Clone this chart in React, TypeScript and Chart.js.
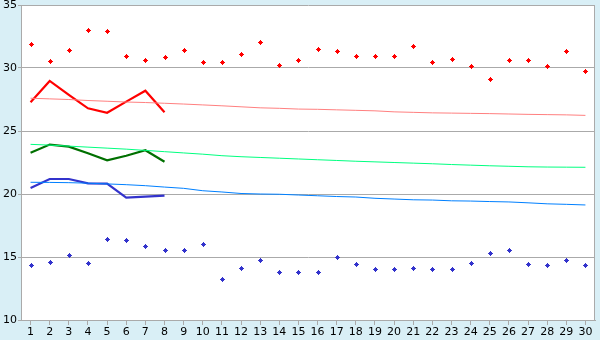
import React, { useEffect, useRef } from 'react';
import { Chart, registerables } from 'chart.js';
Chart.register(...registerables);

const days = ['1','2','3','4','5','6','7','8','9','10','11','12','13','14','15','16','17','18','19','20','21','22','23','24','25','26','27','28','29','30'];
const yTicks = [10, 15, 20, 25, 30, 35];

const redPoints = [31.9, 30.53, 31.4, 33.02, 32.9, 30.93, 30.6, 30.85, 31.4, 30.45, 30.45, 31.1, 32.04, 30.2, 30.6, 31.48, 31.32, 30.93, 30.93, 30.93, 31.72, 30.45, 30.69, 30.13, 29.1, 30.6, 30.6, 30.13, 31.32, 29.8];
const bluePoints = [14.34, 14.58, 15.13, 14.5, 16.4, 16.33, 15.85, 15.53, 15.53, 16.0, 13.23, 14.1, 14.74, 13.78, 13.78, 13.78, 14.97, 14.42, 14.02, 14.02, 14.1, 14.02, 14.02, 14.5, 15.29, 15.53, 14.42, 14.34, 14.74, 14.34];

const redThick = [27.28, 28.97, 27.86, 26.8, 26.45, 27.33, 28.2, 26.48];
const greenThick = [23.28, 23.92, 23.76, 23.23, 22.67, 23.04, 23.47, 22.56];
const blueThick = [20.48, 21.19, 21.19, 20.84, 20.82, 19.71, 19.79, 19.87];

const redThin = [27.6, 27.55, 27.5, 27.42, 27.36, 27.3, 27.26, 27.2, 27.14, 27.07, 27.0, 26.92, 26.84, 26.8, 26.74, 26.72, 26.68, 26.64, 26.6, 26.52, 26.48, 26.44, 26.42, 26.4, 26.38, 26.35, 26.32, 26.3, 26.28, 26.24];
const greenThin = [23.94, 23.88, 23.8, 23.72, 23.64, 23.56, 23.46, 23.36, 23.26, 23.16, 23.04, 22.96, 22.9, 22.84, 22.78, 22.72, 22.66, 22.6, 22.55, 22.5, 22.45, 22.4, 22.34, 22.29, 22.24, 22.2, 22.16, 22.14, 22.13, 22.12];
const blueThin = [20.93, 20.92, 20.9, 20.86, 20.8, 20.74, 20.66, 20.55, 20.45, 20.26, 20.16, 20.04, 20.0, 19.98, 19.92, 19.86, 19.8, 19.76, 19.66, 19.6, 19.54, 19.52, 19.46, 19.44, 19.4, 19.37, 19.3, 19.22, 19.18, 19.13];

const bgPlugin = {
  id: 'bgPlugin',
  beforeDraw(chart: any) {
    const { ctx, chartArea: a, width, height } = chart;
    ctx.save();
    ctx.fillStyle = '#d9eff6';
    ctx.fillRect(0, 0, width, height);
    ctx.fillStyle = '#ffffff';
    ctx.fillRect(a.left, a.top, a.right - a.left, a.bottom - a.top);
    ctx.restore();
  },
  afterDatasetsDraw(chart: any) {
    const ctx = chart.ctx;
    ctx.save();
    chart.data.datasets.forEach((ds: any, i: number) => {
      if (!ds.markerColor) return;
      const meta = chart.getDatasetMeta(i);
      ctx.fillStyle = ds.markerColor;
      meta.data.forEach((el: any) => {
        const x = Math.round(el.x);
        const y = Math.round(el.y);
        ctx.fillRect(x, y - 2, 1, 5);
        ctx.fillRect(x - 2, y, 5, 1);
        ctx.fillRect(x - 1, y - 1, 3, 3);
      });
    });
    ctx.restore();
  },
  afterDraw(chart: any) {
    const { ctx, chartArea: a } = chart;
    ctx.save();
    ctx.strokeStyle = '#aaaaaa';
    ctx.lineWidth = 1;
    ctx.beginPath();
    ctx.moveTo(Math.round(a.right) - 0.5, a.top);
    ctx.lineTo(Math.round(a.right) - 0.5, a.bottom);
    ctx.stroke();
    ctx.restore();
  },
};

export default function App() {
  const ref = useRef<HTMLCanvasElement>(null);
  useEffect(() => {
    if (!ref.current) return;
    Chart.defaults.font.family = 'DejaVu Sans';
    Chart.defaults.font.size = 11;
    Chart.defaults.color = '#000000';
    const chart = new Chart(ref.current, {
      type: 'line',
      data: {
        labels: days,
        datasets: [
          { data: redThin, borderColor: '#ff8080', borderWidth: 1, pointRadius: 0, tension: 0 },
          { data: greenThin, borderColor: '#00ff80', borderWidth: 1, pointRadius: 0, tension: 0 },
          { data: blueThin, borderColor: '#0080ff', borderWidth: 1, pointRadius: 0, tension: 0 },
          { data: redThick, borderColor: '#ff0000', borderWidth: 2.2, pointRadius: 0, tension: 0 },
          { data: greenThick, borderColor: '#007000', borderWidth: 2.2, pointRadius: 0, tension: 0 },
          { data: blueThick, borderColor: '#3333cc', borderWidth: 2.2, pointRadius: 0, tension: 0 },
          { data: redPoints, showLine: false, pointRadius: 0, markerColor: '#ff0000' } as any,
          { data: bluePoints, showLine: false, pointRadius: 0, markerColor: '#3333cc' } as any,
        ],
      },
      options: {
        responsive: false,
        animation: false,
        layout: { padding: { top: 5, right: 5, left: 0, bottom: 0 } },
        plugins: { legend: { display: false }, tooltip: { enabled: false } },
        scales: {
          x: {
            offset: true,
            grid: { display: true, drawOnChartArea: false, drawTicks: true, tickLength: 5, color: '#aaaaaa', offset: false },
            border: { display: true, color: '#aaaaaa' },
            ticks: { padding: 1, maxRotation: 0, autoSkip: false, font: { size: 11 } },
            afterFit(scale: any) {
              scale.height = 20;
              scale.paddingLeft = 0;
              scale.paddingRight = 0;
            },
          },
          y: {
            min: 10,
            max: 35,
            afterBuildTicks(scale: any) {
              scale.ticks = yTicks.map((v) => ({ value: v }));
            },
            grid: { color: '#aaaaaa', tickLength: 3, drawTicks: true },
            border: { display: true, color: '#aaaaaa' },
            ticks: { padding: 1, font: { size: 11 } },
            afterFit(scale: any) {
              scale.width = 21;
              scale.paddingTop = 0;
              scale.paddingBottom = 0;
            },
          },
        },
      },
      plugins: [bgPlugin],
    });
    return () => chart.destroy();
  }, []);
  return (
    <div style={{ position: 'absolute', left: 0, top: 0, width: 600, height: 340 }}>
      <canvas ref={ref} width={600} height={340} style={{ display: 'block' }} />
    </div>
  );
}
